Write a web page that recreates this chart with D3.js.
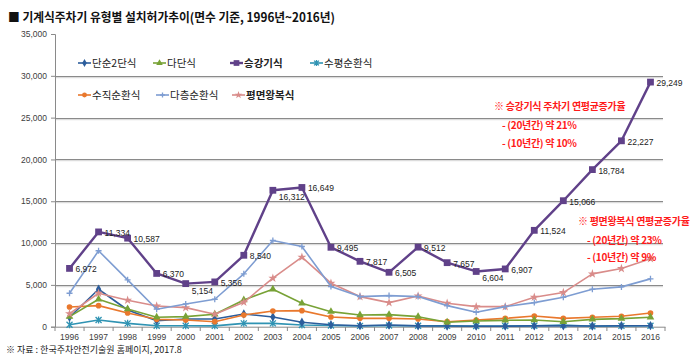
<!DOCTYPE html>
<html><head><meta charset="utf-8">
<script src="https://cdn.jsdelivr.net/npm/d3@7"></script>
<style>
body{margin:0;background:#fff;}
svg{display:block;font-family:"Noto Sans CJK KR","Noto Sans",sans-serif;}
</style></head>
<body><svg id="c" width="700" height="360"></svg>
<script>
const years = [1996,1997,1998,1999,2000,2001,2002,2003,2004,2005,2006,2007,2008,2009,2010,2011,2012,2013,2014,2015,2016];
const yTicks = [0,5000,10000,15000,20000,25000,30000,35000];
const seriesNames = ["단순2단식","다단식","승강기식","수평순환식","수직순환식","다층순환식","평면왕복식"];
const simple2 = [1130,4480,2000,720,920,920,1520,1160,530,240,120,200,100,80,60,60,100,100,80,120,120];
const multiStage = [1200,3280,2120,1130,1200,1490,3200,4480,2800,1800,1400,1440,1200,530,680,760,800,600,880,960,1130];
const elevator = [6972,11334,10587,6370,5154,5356,8540,16312,16649,9495,7817,6505,9512,7657,6604,6907,11524,15066,18784,22227,29249];
const horizCirc = [240,800,400,120,120,100,400,400,200,150,100,150,120,100,80,80,120,200,60,100,120];
const vertCirc = [2360,2520,1640,880,800,600,1400,1880,1920,1160,1000,1000,920,600,800,1000,1280,1000,1130,1250,1640];
const multiCirc = [4000,9080,5600,2090,2720,3280,6320,10310,9590,4800,3600,3720,3600,2520,1730,2400,2880,3520,4480,4760,5720];
const planeShuttle = [1560,4000,3170,2480,2280,1490,2920,5800,8320,5200,3600,2880,3680,2800,2400,2400,3520,4080,6320,6950,8120];
const titleText = "■ 기계식주차기 유형별 설치허가추이(면수 기준, 1996년~2016년)";
const sourceText = "※ 자료 : 한국주차안전기술원 홈페이지, 2017.8";
const note1 = ["※ 승강기식 주차기 연평균증가율","- (20년간) 약 21%","- (10년간) 약 10%"];
const note2 = ["※ 평면왕복식 연평균증가율","- (20년간) 약 23%","- (10년간) 약 9%"];

const values = [simple2,multiStage,elevator,horizCirc,vertCirc,multiCirc,planeShuttle];
const colors = ["#2c5d9c","#78a236","#604189","#2f93b3","#e9782d","#7e9dd2","#d98c8a"];
const shapes = ["diamond","triangle","square","asterisk","circle","plus","star"];
const labelBelow = new Set([2000,2003,2010]);

const svg = d3.select("#c");
const x = d3.scaleBand().domain(years).range([55,665]);
const y = d3.scaleLinear().domain([0,35000]).range([326.7,34]);
const cx = d => x(d) + x.bandwidth()/2;

// title
svg.append("text").attr("x",8).attr("y",22).attr("font-size",12.5).attr("font-weight","bold")
  .attr("fill","#111").attr("textLength",327).attr("lengthAdjust","spacingAndGlyphs").text(titleText);

// gridlines
svg.append("g").selectAll("line").data(yTicks.filter(t=>t>0 && t<35000)).join("line")
  .attr("x1",55).attr("x2",663).attr("y1",d=>Math.round(y(d))+0.5).attr("y2",d=>Math.round(y(d))+0.5)
  .attr("stroke","#8a8a8a").attr("stroke-width",1.2);
svg.append("g").selectAll("line").data(yTicks.filter(t=>t>0 && t<35000)).join("line")
  .attr("x1",55).attr("x2",663).attr("y1",d=>Math.round(y(d))+1.7).attr("y2",d=>Math.round(y(d))+1.7)
  .attr("stroke","#d4d4d4").attr("stroke-width",1);

// y axis
const ya = svg.append("g").attr("transform","translate(55,0)")
  .call(d3.axisLeft(y).tickValues(yTicks).tickFormat(d3.format(",")).tickSize(4).tickPadding(4));
ya.select(".domain").attr("stroke","#8a8a8a");
ya.selectAll(".tick line").attr("stroke","#8a8a8a");
ya.selectAll("text").attr("font-size",8.5).attr("fill","#404040").attr("font-family","'Liberation Sans',Arial,sans-serif");

// x axis
const xa = svg.append("g").attr("transform","translate(0,326.7)")
  .call(d3.axisBottom(x).tickSize(0).tickPadding(7));
xa.select(".domain").attr("stroke","#8a8a8a");
xa.selectAll("text").attr("font-size",8.5).attr("fill","#404040").attr("font-family","'Liberation Sans',Arial,sans-serif");
svg.append("g").selectAll("line").data(years.concat(["end"])).join("line")
  .attr("x1",(d,i)=>55+i*x.step()).attr("x2",(d,i)=>55+i*x.step())
  .attr("y1",327).attr("y2",331).attr("stroke","#8a8a8a");

function marker(sel, shape, color, s){
  if(shape==="plus") return sel.append("path").attr("d",`M${-s},0H${s}M0,${-s}V${s}`).attr("stroke",color).attr("stroke-width",1.3).attr("fill","none");
  if(shape==="asterisk") return sel.append("path").attr("d",`M${-s},${-s}L${s},${s}M${-s},${s}L${s},${-s}M0,${-s-0.5}V${s+0.5}`).attr("stroke",color).attr("stroke-width",1.3).attr("fill","none");
  const t = {diamond:d3.symbolDiamond,triangle:d3.symbolTriangle,square:d3.symbolSquare,circle:d3.symbolCircle,star:d3.symbolStar}[shape];
  return sel.append("path").attr("d",d3.symbol().type(t).size(s*s*3.2)).attr("fill",color);
}

const line = d3.line().x((d,i)=>cx(years[i])).y(d=>y(d));
const order = [3,0,4,1,6,5,2];
order.forEach(k=>{
  const g = svg.append("g");
  g.append("path").datum(values[k]).attr("d",line).attr("fill","none").attr("stroke",colors[k])
    .attr("stroke-width",k===2?2.4:1.6).attr("stroke-linejoin","round");
  values[k].forEach((v,i)=>{
    const m = g.append("g").attr("transform",`translate(${cx(years[i])},${y(v)})`);
    marker(m, shapes[k], colors[k], k===2?3.8:(shapes[k]==="plus"||shapes[k]==="asterisk"?3:2.8));
  });
});

// elevator labels
svg.append("g").selectAll("text").data(elevator).join("text")
  .attr("x",(d,i)=>cx(years[i])+6)
  .attr("y",(d,i)=>y(d)+(labelBelow.has(years[i])?10:4))
  .attr("font-size",8.5).attr("fill","#222").attr("font-family","'Liberation Sans',Arial,sans-serif")
  .text(d=>d3.format(",")(d));

// legend
const legendItems = [
  {i:0,x:78,y:63},{i:1,x:153,y:63},{i:2,x:230,y:63},{i:3,x:310,y:63},
  {i:4,x:78,y:95},{i:5,x:156,y:95},{i:6,x:232,y:95}
];
legendItems.forEach(it=>{
  const g = svg.append("g");
  g.append("line").attr("x1",it.x).attr("x2",it.x+13).attr("y1",it.y).attr("y2",it.y)
    .attr("stroke",colors[it.i]).attr("stroke-width",it.i===2?2.4:1.6);
  const m = g.append("g").attr("transform",`translate(${it.x+6.5},${it.y})`);
  marker(m, shapes[it.i], colors[it.i], it.i===2?3.2:2.4);
  g.append("text").attr("x",it.x+14).attr("y",it.y+4).attr("font-size",10.5)
    .attr("font-weight",(it.i===2||it.i===6)?"bold":"normal").attr("fill","#222")
    .text(seriesNames[it.i]);
});

// annotations
const ann = svg.append("g").attr("fill","#ff1a1a").attr("font-size",10).attr("font-weight","bold");
note1.forEach((t,j)=>ann.append("text").attr("x",j===0?494:502).attr("y",[110,129,147][j]).attr("letter-spacing",-0.3).text(t));
note2.forEach((t,j)=>ann.append("text").attr("x",j===0?578:587).attr("y",[225,244,261][j]).attr("letter-spacing",-0.3).text(t));

// source
svg.append("text").attr("x",6).attr("y",353).attr("font-size",9).attr("fill","#222").text(sourceText);
</script></body></html>
